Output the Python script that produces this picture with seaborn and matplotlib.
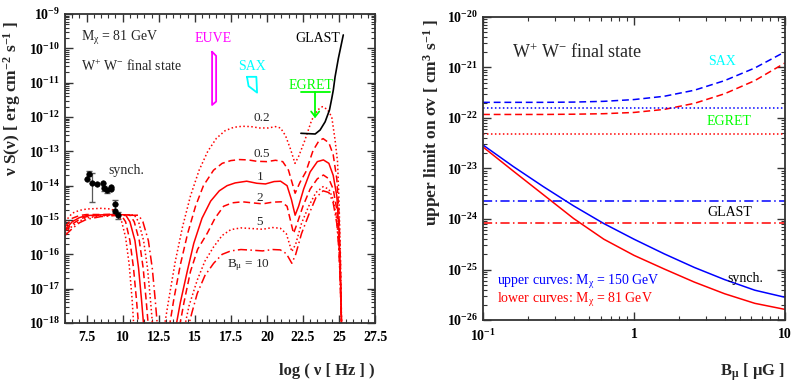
import matplotlib
matplotlib.use("Agg")
import matplotlib.pyplot as plt
import numpy as np
import seaborn as sns
from matplotlib.ticker import FixedLocator, FuncFormatter, LogLocator, MultipleLocator, NullFormatter

RED = "#ff0000"
BLUE = "#0000ff"
CYAN = "#00ffff"
GREEN = "#00ff00"
MAGENTA = "#ff00ff"

DOT = (0, (1.0, 1.6))
DASH = (0, (4.5, 2.5))
DASHDOT = (0, (6.0, 2.2, 1.0, 2.2))

# ---------------- left panel: nu S(nu) for several B (log10 values) ----------------
b02_x = [6.0, 6.5, 7.0, 7.5, 8.5, 9.2, 9.6, 9.9, 10.2, 10.45, 10.65, 10.8,
         12.85, 13.2, 13.65, 14.15, 14.7, 15.3, 15.9, 16.5, 17.1, 17.7, 18.3, 18.9, 19.5, 20.1,
         20.6, 20.95, 21.3, 21.65, 21.95, 22.2, 22.6, 23.1, 23.5, 23.85, 24.2, 24.5, 24.73, 24.9,
         25.0, 25.1, 25.2]
b02_y = [-15.05, -14.8, -14.72, -14.68, -14.66, -14.68, -14.78, -15.0, -15.5, -16.3, -17.3, -18.3,
         -18.2, -17.3, -16.2, -15.2, -14.3, -13.55, -13.0, -12.62, -12.4, -12.3, -12.27, -12.28, -12.32, -12.32,
         -12.28, -12.32, -12.55, -12.95, -13.35, -13.15, -12.72, -12.1, -11.8, -11.7, -11.78, -12.0, -12.67, -13.3,
         -14.4, -16.0, -18.5]

b05_x = [6.0, 6.5, 7.0, 7.5, 8.5, 9.5, 9.9, 10.2, 10.5, 10.75, 10.95, 11.15,
         13.2, 13.55, 14.0, 14.5, 15.05, 15.6, 16.3, 16.9, 17.5, 18.1, 18.7, 19.3, 20.0,
         20.6, 21.1, 21.5, 21.96, 22.3, 22.7, 23.2, 23.6, 23.9, 24.3, 24.6, 24.85,
         25.0, 25.1, 25.2]
b05_y = [-15.2, -14.95, -14.87, -14.84, -14.84, -14.83, -14.86, -15.05, -15.6, -16.4, -17.3, -18.3,
         -18.2, -17.3, -16.3, -15.4, -14.6, -14.0, -13.55, -13.35, -13.27, -13.24, -13.25, -13.29, -13.3,
         -13.26, -13.3, -13.55, -14.22, -13.9, -13.6, -12.98, -12.7, -12.63, -12.75, -13.1, -13.8,
         -14.8, -16.2, -18.5]

b1_x = [6.0, 6.5, 7.0, 7.5, 8.5, 9.5, 10.2, 10.5, 10.85, 11.1, 11.3, 11.5,
        13.65, 14.0, 14.5, 14.93, 15.5, 16.1, 16.7, 17.24, 17.8, 18.6, 19.3, 19.9, 20.5,
        20.95, 21.4, 21.7, 21.96, 22.2, 22.55, 23.0, 23.5, 23.92, 24.3, 24.6, 24.85,
        25.0, 25.1, 25.2]
b1_y = [-15.28, -15.05, -14.93, -14.87, -14.85, -14.84, -14.85, -15.05, -15.6, -16.4, -17.3, -18.3,
        -18.2, -17.4, -16.45, -15.68, -14.95, -14.45, -14.15, -14.0, -13.92, -13.87, -13.93, -13.95, -13.88,
        -13.87, -14.0, -14.4, -14.86, -14.6, -14.1, -13.6, -13.3, -13.25, -13.35, -13.7, -14.3,
        -15.3, -16.6, -18.5]

b2_x = [6.0, 6.5, 7.0, 7.5, 8.5, 9.5, 10.5, 10.8, 11.15, 11.42, 11.62, 11.82,
        13.9, 14.25, 14.7, 15.2, 15.86, 16.4, 17.0, 17.6, 18.3, 19.0, 19.7, 20.4,
        21.0, 21.4, 21.85, 22.1, 22.5, 23.0, 23.5, 23.92, 24.3, 24.6, 24.85,
        25.0, 25.1, 25.2]
b2_y = [-15.32, -15.12, -14.98, -14.9, -14.86, -14.85, -14.85, -15.05, -15.6, -16.4, -17.3, -18.3,
        -18.2, -17.4, -16.5, -15.85, -15.39, -14.95, -14.6, -14.5, -14.47, -14.5, -14.53, -14.48,
        -14.47, -14.6, -15.39, -15.1, -14.6, -14.1, -13.8, -13.69, -13.8, -14.1, -14.7,
        -15.6, -16.8, -18.5]

b5_x = [6.0, 6.5, 7.0, 7.5, 8.5, 9.5, 10.8, 11.1, 11.45, 11.72, 11.92, 12.12,
        14.25, 14.6, 15.17, 15.7, 16.31, 16.9, 17.5, 18.2, 19.0, 19.7, 20.4,
        20.93, 21.35, 21.73, 22.0, 22.4, 22.9, 23.4, 23.9, 24.3, 24.6, 24.85,
        25.0, 25.1, 25.2]
b5_y = [-15.38, -15.18, -15.03, -14.94, -14.88, -14.86, -14.85, -15.05, -15.6, -16.4, -17.3, -18.3,
        -18.2, -17.5, -16.75, -16.2, -15.78, -15.45, -15.28, -15.23, -15.25, -15.27, -15.22,
        -15.24, -15.4, -15.92, -15.7, -15.1, -14.6, -14.2, -14.03, -14.1, -14.4, -15.0,
        -15.8, -16.9, -18.5]

b10_x = [6.0, 6.5, 7.0, 7.5, 8.5, 9.5, 11.1, 11.4, 11.78, 12.05, 12.25, 12.45,
         14.5, 14.8, 15.17, 15.7, 16.31, 16.9, 17.5, 18.2, 19.0, 19.7, 20.4,
         20.93, 21.35, 21.73, 22.0, 22.4, 22.9, 23.4, 23.9, 24.3, 24.6, 24.85,
         25.0, 25.1, 25.2]
b10_y = [-15.45, -15.25, -15.08, -14.98, -14.9, -14.87, -14.86, -15.05, -15.6, -16.4, -17.3, -18.3,
         -18.2, -17.7, -17.14, -16.62, -16.26, -16.0, -15.9, -15.86, -15.88, -15.9, -15.86,
         -15.87, -15.98, -16.26, -16.0, -15.4, -14.85, -14.35, -14.15, -14.2, -14.5, -15.1,
         -15.9, -17.0, -18.5]

# radio data (synch.) and error bars, log10 values
synch_x = [7.51, 7.67, 7.90, 8.25, 8.60, 8.67, 8.89, 9.17, 9.17, 9.47, 9.47, 9.70]
synch_y = [-13.82, -13.66, -13.91, -13.96, -13.91, -14.08, -14.13, -14.10, -14.03, -14.53, -14.73, -14.86]
err_x = [7.84, 7.67, 8.67, 8.89, 9.47, 9.70]
err_lo = [-14.47, -13.72, -14.16, -14.2, -14.80, -14.98]
err_hi = [-13.63, -13.58, -14.0, -14.06, -14.42, -14.78]

# instrument sensitivities
euve_x = [16.20, 16.48, 16.48, 16.20, 16.20]
euve_y = [-10.10, -10.22, -11.55, -11.65, -10.10]
sax_x = [18.62, 19.27, 19.32, 18.73, 18.62]
sax_y = [-10.83, -10.83, -11.29, -11.10, -10.83]
egret_bar_x = [22.36, 24.38]
egret_level = -11.26
egret_arrow_x = 23.35
egret_arrow_tip = -11.99
glast_x = [22.36, 23.35, 23.69, 24.04, 24.34, 24.50, 24.61, 24.73, 24.96, 25.30]
glast_y = [-12.475, -12.495, -12.38, -12.14, -11.80, -11.46, -11.21, -10.83, -10.29, -9.61]

# ---------------- right panel: upper limit on sigma v vs B ----------------
b_field = [0.1, 0.1585, 0.2512, 0.3981, 0.631, 1.0, 1.585, 2.512, 3.981, 6.31, 10.0]
synch_150 = [-22.535, -22.96, -23.36, -23.74, -24.09, -24.40, -24.69, -24.96, -25.20, -25.41, -25.55]
synch_81 = [-22.574, -23.05, -23.52, -23.99, -24.40, -24.72, -24.99, -25.25, -25.48, -25.67, -25.79]
sax_150 = [-21.69, -21.69, -21.69, -21.685, -21.67, -21.635, -21.57, -21.45, -21.26, -21.01, -20.69]
sax_81 = [-21.93, -21.93, -21.93, -21.925, -21.915, -21.89, -21.83, -21.71, -21.52, -21.26, -20.91]
b_ends = [0.1, 10.0]
egret_150 = [-21.80, -21.80]
egret_81 = [-22.317, -22.317]
glast_150 = [-23.644, -23.644]
glast_81 = [-24.08, -24.08]


def line(ax, xs, ys, color, ls, lw=1.1):
    sns.lineplot(x=list(xs), y=10.0 ** np.asarray(ys), ax=ax, color=color,
                 linestyle=ls, lw=lw, estimator=None, sort=False)


def pow10_label(v, _pos):
    e = int(round(np.log10(v)))
    return r"$10^{%d}$" % e


sns.set_theme(style="ticks")
plt.rcParams.update({
    "font.family": ["Liberation Serif", "DejaVu Serif"],
    "font.weight": "bold",
    "axes.labelweight": "bold",
    "mathtext.fontset": "custom",
    "mathtext.rm": "Liberation Serif",
    "mathtext.it": "Liberation Serif:italic",
    "mathtext.bf": "Liberation Serif:bold",
    "mathtext.default": "regular",
    "axes.edgecolor": "#333333",
    "axes.linewidth": 1.3,
    "xtick.color": "#333333",
    "ytick.color": "#333333",
    "xtick.labelcolor": "black",
    "ytick.labelcolor": "black",
})

fig = plt.figure(figsize=(7.93, 3.81), dpi=100)
ax1 = fig.add_axes([0.082, 0.1522, 0.3909, 0.8111])
ax2 = fig.add_axes([0.6091, 0.1601, 0.3808, 0.7953])

# --- left: model spectra ---
for xs, ys, ls in [(b02_x, b02_y, DOT), (b05_x, b05_y, DASH), (b1_x, b1_y, "-"),
                   (b2_x, b2_y, DASH), (b5_x, b5_y, DOT), (b10_x, b10_y, DASHDOT)]:
    line(ax1, xs, ys, RED, ls)

ax1.errorbar(err_x, 10.0 ** np.asarray(err_lo),
             yerr=[np.zeros(len(err_x)), 10.0 ** np.asarray(err_hi) - 10.0 ** np.asarray(err_lo)],
             fmt="none", ecolor="0.35", elinewidth=0.9, capsize=2.5, zorder=4)
sns.scatterplot(x=synch_x, y=10.0 ** np.asarray(synch_y), ax=ax1, color="black",
                s=16, edgecolor="black", linewidth=0.4, zorder=5)

ax1.plot(euve_x, 10.0 ** np.asarray(euve_y), color=MAGENTA, lw=1.3)
ax1.plot(sax_x, 10.0 ** np.asarray(sax_y), color=CYAN, lw=1.3)
ax1.plot(egret_bar_x, [10.0 ** egret_level] * 2, color=GREEN, lw=1.3)
ax1.plot([egret_arrow_x, egret_arrow_x], [10.0 ** egret_level, 10.0 ** egret_arrow_tip], color=GREEN, lw=1.3)
ax1.plot([egret_arrow_x - 0.28, egret_arrow_x, egret_arrow_x + 0.28],
         [10.0 ** (egret_arrow_tip + 0.15), 10.0 ** egret_arrow_tip, 10.0 ** (egret_arrow_tip + 0.15)],
         color=GREEN, lw=1.3)
line(ax1, glast_x, glast_y, "black", "-", lw=1.2)

txt = dict(fontweight="normal", fontsize=10, va="center")
ax1.text(7.1, 10 ** -9.71, r"M$_{\chi}$ = 81 GeV", **txt)
ax1.text(7.1, 10 ** -10.54, r"W$^{+}$ W$^{-}$ final state", **txt)
ax1.text(16.29, 10 ** -9.71, "EUVE", color=MAGENTA, ha="center", **txt)
ax1.text(18.97, 10 ** -10.53, "SAX", color=CYAN, ha="center", **txt)
ax1.text(23.04, 10 ** -11.07, "EGRET", color=GREEN, ha="center", **txt)
ax1.text(23.52, 10 ** -9.71, "GLAST", color="black", ha="center", **txt)
ax1.text(9.03, 10 ** -13.56, "synch.", **txt)
curve_txt = dict(fontweight="normal", fontsize=9.5, va="center", ha="center")
ax1.text(19.66, 10 ** -12.04, "0.2", **curve_txt)
ax1.text(19.66, 10 ** -13.08, "0.5", **curve_txt)
ax1.text(19.5, 10 ** -13.74, "1", **curve_txt)
ax1.text(19.5, 10 ** -14.37, "2", **curve_txt)
ax1.text(19.5, 10 ** -15.05, "5", **curve_txt)
ax1.text(17.24, 10 ** -16.31, r"B$_{\mu}$ = 10", fontweight="normal", fontsize=9.5, va="center", ha="left")

ax1.set_yscale("log")
ax1.set_xlim(6.0, 27.5)
ax1.set_ylim(1e-18, 1e-9)
ax1.xaxis.set_major_locator(FixedLocator([7.5, 10, 12.5, 15, 17.5, 20, 22.5, 25, 27.5]))
ax1.xaxis.set_major_formatter(FuncFormatter(lambda v, p: "%g" % v))
ax1.xaxis.set_minor_locator(MultipleLocator(0.5))
ax1.yaxis.set_major_locator(LogLocator(base=10, numticks=20))
ax1.yaxis.set_major_formatter(FuncFormatter(pow10_label))
ax1.yaxis.set_minor_locator(LogLocator(base=10, subs=np.arange(2, 10), numticks=20))
ax1.yaxis.set_minor_formatter(NullFormatter())
ax1.set_xlabel("log ( ν [ Hz ] )", fontsize=12)
ax1.xaxis.set_label_coords(1.0, -0.13)
ax1.xaxis.label.set_ha("right")
ax1.set_ylabel(r"ν S(ν) [ erg cm$^{-2}$ s$^{-1}$ ]", fontsize=12.5)
ax1.yaxis.set_label_coords(-0.135, 0.728)

# --- right: limits on sigma v ---
line(ax2, b_field, synch_150, BLUE, "-")
line(ax2, b_field, synch_81, RED, "-")
line(ax2, b_field, sax_150, BLUE, DASH)
line(ax2, b_field, sax_81, RED, DASH)
line(ax2, b_ends, egret_150, BLUE, DOT)
line(ax2, b_ends, egret_81, RED, DOT)
line(ax2, b_ends, glast_150, BLUE, DASHDOT)
line(ax2, b_ends, glast_81, RED, DASHDOT)

ax2.text(0.1556, 10 ** -20.71, r"W$^{+}$ W$^{-}$ final state", fontweight="normal", fontsize=13, va="center")
ax2.text(3.81, 10 ** -20.89, "SAX", color=CYAN, ha="center", **txt)
ax2.text(4.28, 10 ** -22.06, "EGRET", color=GREEN, ha="center", **txt)
ax2.text(4.28, 10 ** -23.87, "GLAST", color="black", ha="center", **txt)
ax2.text(5.43, 10 ** -25.17, "synch.", color="black", ha="center", **txt)
ax2.text(0.1238, 10 ** -25.24, r"upper curves: M$_{\chi}$ = 150 GeV", color=BLUE, **txt)
ax2.text(0.1238, 10 ** -25.60, r"lower curves: M$_{\chi}$ = 81 GeV", color=RED, **txt)

ax2.set_xscale("log")
ax2.set_yscale("log")
ax2.set_xlim(0.1, 10)
ax2.set_ylim(1e-26, 1e-20)
ax2.xaxis.set_major_locator(FixedLocator([0.1, 1, 10]))
ax2.xaxis.set_major_formatter(FuncFormatter(lambda v, p: r"$10^{-1}$" if v < 0.5 else "%g" % v))
ax2.xaxis.set_minor_locator(LogLocator(base=10, subs=np.arange(2, 10), numticks=20))
ax2.xaxis.set_minor_formatter(NullFormatter())
ax2.yaxis.set_major_locator(LogLocator(base=10, numticks=20))
ax2.yaxis.set_major_formatter(FuncFormatter(pow10_label))
ax2.yaxis.set_minor_locator(LogLocator(base=10, subs=np.arange(2, 10), numticks=20))
ax2.yaxis.set_minor_formatter(NullFormatter())
ax2.set_xlabel(r"B$_{\mu}$ [ μG ]", fontsize=12)
ax2.xaxis.set_label_coords(1.0, -0.135)
ax2.xaxis.label.set_ha("right")
ax2.set_ylabel(r"upper limit on σv [ cm$^{3}$ s$^{-1}$ ]", fontsize=12.5)
ax2.yaxis.set_label_coords(-0.132, 0.653)

for ax in (ax1, ax2):
    ax.tick_params(which="both", direction="in", top=True, right=True, labelsize=10)
    ax.tick_params(which="major", length=6, width=1.0)
    ax.tick_params(which="minor", length=3, width=0.8)
    ax.tick_params(axis="x", which="major", pad=6)

fig.savefig("out.png", dpi=100)
